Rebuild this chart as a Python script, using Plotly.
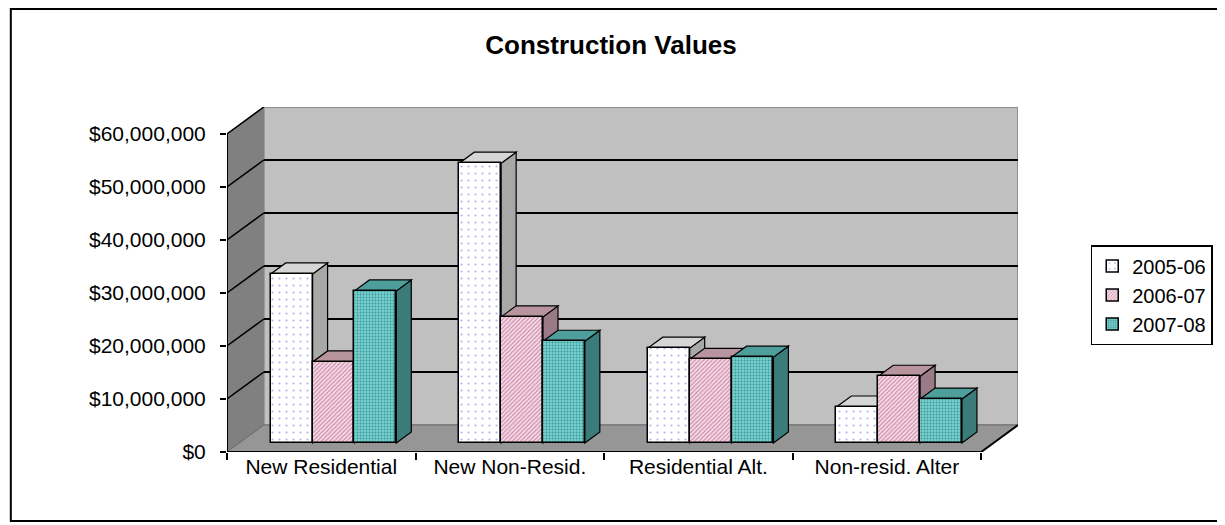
import plotly.graph_objects as go

# ---------------- data ----------------
categories = ["New Residential", "New Non-Resid.", "Residential Alt.", "Non-resid. Alter"]
series_names = ["2005-06", "2006-07", "2007-08"]
values_2005_06 = [31.9e6, 52.8e6, 17.9e6, 6.8e6]
values_2006_07 = [15.3e6, 23.8e6, 15.8e6, 12.6e6]
values_2007_08 = [28.7e6, 19.2e6, 16.2e6, 8.3e6]
y_tick_values = [0, 10e6, 20e6, 30e6, 40e6, 50e6, 60e6]
y_tick_labels = ["$0", "$10,000,000", "$20,000,000", "$30,000,000",
                 "$40,000,000", "$50,000,000", "$60,000,000"]
title_text = "Construction Values"

series_values = [values_2005_06, values_2006_07, values_2007_08]

# ---------------- styling / 3D geometry ----------------
FONT = "Arial, Liberation Sans, sans-serif"
OFF = 8              # page body margin
W, H = 1225 - OFF, 525 - OFF
n_cat = len(categories)
YMAX = 60e6
DX = 0.1953          # depth offset in category units
DY = 5.094e6         # depth offset in value units
F1, F2 = 1 / 3, 0.74  # bar front / back depth fractions
BW = 0.222           # bar width (category units)

front_styles = [
    dict(bg="#FFFFFF", fg="#B4B4F2", shape=".", size=7, sol=0.08),
    dict(bg="#F4D9E5", fg="#C47A9C", shape="/", size=3, sol=0.3),
    dict(bg="#78CFCC", fg="#3A9896", shape=".", size=3, sol=0.3),
]
top_colors = ["#D6D6D6", "#B8949F", "#4E9E9C"]
side_colors = ["#A8A8A8", "#9A7A86", "#3B7B79"]

fig = go.Figure()
shapes = []

def poly(pts, fill, line="black", width=1.2):
    path = "M " + " L ".join(f"{px},{py}" for px, py in pts) + " Z"
    return dict(type="path", path=path, xref="x", yref="y", fillcolor=fill,
                line=dict(color=line, width=width), layer="below")

def seg(p0, p1, color="black", width=1.5):
    return dict(type="line", x0=p0[0], y0=p0[1], x1=p1[0], y1=p1[1], xref="x", yref="y",
                line=dict(color=color, width=width), layer="below")

# walls & floor
shapes.append(poly([(0, 0), (0, YMAX), (DX, YMAX + DY), (DX, DY)], "#808080", "#5A5A5A", 1))
shapes.append(poly([(DX, DY), (n_cat + DX, DY), (n_cat + DX, YMAX + DY), (DX, YMAX + DY)],
                   "#C0C0C0", "#808080", 1.5))
shapes.append(poly([(0, 0), (n_cat, 0), (n_cat + DX, DY), (DX, DY)], "#969696", "#6E6E6E", 1))
# gridlines (back wall + left wall)
for v in y_tick_values[1:-1]:
    shapes.append(seg((DX, v + DY), (n_cat + DX, v + DY), "black", 2))
for v in y_tick_values[1:]:
    shapes.append(seg((0, v), (DX, v + DY), "black", 1.5))
# front floor edge, right floor edge, y axis line
shapes.append(seg((0, 0), (n_cat, 0), "black", 2))
shapes.append(seg((n_cat, 0), (n_cat + DX, DY), "black", 2))
shapes.append(seg((0, 0), (0, YMAX), "black", 2))

# bar side/top faces (drawn left to right), front faces as bar traces
for c in range(n_cat):
    for s, vals in enumerate(series_values):
        v = vals[c]
        center = c + 0.5 + (s - 1) * BW
        L, R = center - BW / 2, center + BW / 2
        fx1, fy1 = F1 * DX, F1 * DY
        fx2, fy2 = F2 * DX, F2 * DY
        shapes.append(poly([(R + fx1, fy1), (R + fx2, fy2), (R + fx2, fy2 + v), (R + fx1, fy1 + v)],
                           side_colors[s]))
        shapes.append(poly([(L + fx1, fy1 + v), (R + fx1, fy1 + v), (R + fx2, fy2 + v), (L + fx2, fy2 + v)],
                           top_colors[s]))

for s, (name, vals) in enumerate(zip(series_names, series_values)):
    st = front_styles[s]
    xs = [c + 0.5 + (s - 1) * BW + F1 * DX for c in range(n_cat)]
    fig.add_trace(go.Bar(
        name=name, x=xs, y=vals, base=[F1 * DY] * n_cat, width=BW,
        marker=dict(color=st["bg"], line=dict(color="black", width=1.5),
                    pattern=dict(shape=st["shape"], fgcolor=st["fg"], bgcolor=st["bg"],
                                 size=st["size"], solidity=st["sol"], fillmode="replace")),
    ))

# plot area in figure pixels (reference pixels minus page offset)
L0, T0 = 227 - OFF, 107 - OFF
PW, PH = 794, 345

def px2paper(px, py):
    return (px - OFF - L0) / PW, (T0 + PH - (py - OFF)) / PH

bx0, by0 = px2paper(10, 521)
bx1, by1 = px2paper(1222, 9)
shapes.append(dict(type="rect", xref="paper", yref="paper", x0=bx0, y0=by0, x1=bx1, y1=by1,
                   line=dict(color="black", width=2), fillcolor="rgba(0,0,0,0)", layer="above"))

lgx, lgy = px2paper(1094, 245)

fig.update_layout(
    width=W, height=H,
    margin=dict(l=L0, r=W - L0 - PW, t=T0, b=H - T0 - PH, pad=0),
    paper_bgcolor="white", plot_bgcolor="rgba(0,0,0,0)",
    barmode="overlay", bargap=0,
    shapes=shapes,
    font=dict(family=FONT, size=21, color="black"),
    title=dict(text="<b>" + title_text + "</b>", x=(611 - OFF) / W, xanchor="center",
               y=1 - (45 - OFF) / H, yanchor="middle", font=dict(family=FONT, size=26, color="black")),
    showlegend=True,
    legend=dict(x=lgx, y=lgy, xanchor="left", yanchor="top",
                bgcolor="white", bordercolor="black", borderwidth=1.5,
                font=dict(family=FONT, size=20, color="black"), traceorder="normal",
                itemwidth=30, tracegroupgap=0),
    xaxis=dict(range=[0, n_cat + DX], showgrid=False, zeroline=False, showline=False,
               tickmode="array", tickvals=[c + 0.5 for c in range(n_cat)], ticktext=categories,
               ticks="", ticklabelstandoff=0, fixedrange=True,
               tickfont=dict(family=FONT, size=21, color="black"),
               minor=dict(ticks="outside", tickmode="array", tickvals=list(range(n_cat + 1)),
                          ticklen=7, tickcolor="black", tickwidth=2, showgrid=False)),
    yaxis=dict(range=[0, YMAX + DY], showgrid=False, zeroline=False, showline=False,
               tickmode="array", tickvals=y_tick_values, ticktext=y_tick_labels,
               ticks="outside", ticklen=6, tickcolor="black", tickwidth=2,
               tickfont=dict(family=FONT, size=21, color="black"),
               ticklabelstandoff=10, fixedrange=True),
)

fig.write_html("out.html")
